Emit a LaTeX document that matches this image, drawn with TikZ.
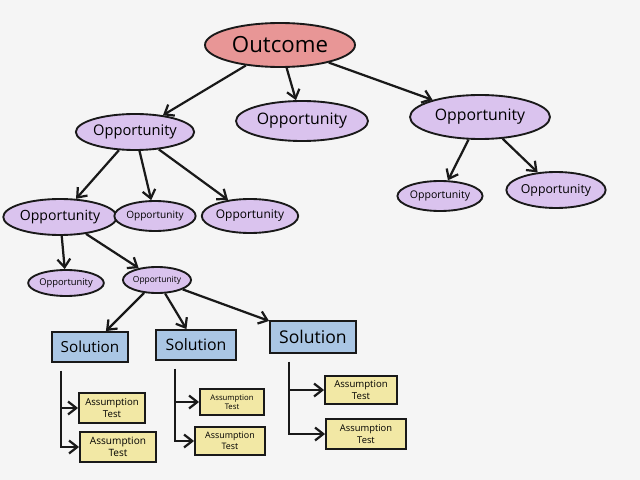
\documentclass[tikz,border=0pt]{standalone}
\usepackage{fontspec}
\setmainfont{Open Sans}
\usetikzlibrary{arrows.meta,shapes.geometric}

\definecolor{bgpaper}{RGB}{245,245,245}
\definecolor{outpink}{RGB}{232,150,150}
\definecolor{opplilac}{RGB}{218,195,238}
\definecolor{solblue}{RGB}{170,198,228}
\definecolor{testyellow}{RGB}{242,232,165}

\tikzset{
  sketch/.style={draw=black!90, line width=1.6pt},
  outc/.style={ellipse, sketch, fill=outpink, inner sep=0pt},
  opp/.style n args={3}{ellipse, sketch, fill=opplilac, inner sep=0pt,
    minimum width=#1*0.03cm, minimum height=#2*0.03cm,
    font=\fontsize{#3}{#3}\selectfont},
  sol/.style n args={3}{rectangle, sketch, fill=solblue, inner sep=0pt,
    minimum width=#1*0.03cm, minimum height=#2*0.03cm,
    font=\fontsize{#3}{#3}\selectfont},
  atest/.style n args={4}{rectangle, sketch, fill=testyellow, inner sep=0pt,
    minimum width=#1*0.03cm, minimum height=#2*0.03cm, align=center,
    font=\fontsize{#3}{#4}\selectfont},
  link/.style={->, line width=1.9pt, black!90}
}

\begin{document}
\begin{tikzpicture}[x=0.03cm,y=-0.03cm,>={Straight Barb[length=7pt,width=11pt]}]
    \fill[bgpaper] (0,0) rectangle (640,480);
    \useasboundingbox (0,0) rectangle (640,480);

    % outcome and first level
    \node[outc, minimum width=150*0.03cm, minimum height=44*0.03cm,
          font=\fontsize{19}{19}\selectfont] (out) at (280,45) {Outcome};
    \node[opp={102}{36}{12.5}] (oA) at (135,132) {Opportunity};
    \node[opp={132}{40}{13.5}] (oB) at (302,121) {Opportunity};
    \node[opp={140}{44}{13.5}] (oC) at (480,117) {Opportunity};

    % second level
    \node[opp={80}{30}{9}]    (oC1) at (440,196) {Opportunity};
    \node[opp={92}{36}{10.5}] (oC2) at (556,190) {Opportunity};
    \node[opp={100}{36}{12}]  (oA1) at (60,217)  {Opportunity};
    \node[opp={76}{30}{8.6}]  (oA2) at (155,216) {Opportunity};
    \node[opp={88}{34}{10.2}] (oA3) at (250,216) {Opportunity};

    % third level
    \node[opp={68}{26}{8}] (oA11) at (66,283)  {Opportunity};
    \node[opp={62}{26}{7.2}] (oA12) at (157,280) {Opportunity};

    % solutions
    \node[sol={76}{30}{13}]   (s1) at (90,347)  {Solution};
    \node[sol={80}{30}{13.5}] (s2) at (196,345) {Solution};
    \node[sol={86}{32}{15}]   (s3) at (313,337) {Solution};

    % assumption tests
    \node[atest={66}{30}{8.2}{10}] (t11) at (112,408) {Assumption\\Test};
    \node[atest={76}{30}{8.6}{10.5}] (t12) at (118,447) {Assumption\\Test};
    \node[atest={64}{26}{6.6}{8}] (t21) at (232,402) {Assumption\\Test};
    \node[atest={70}{28}{7.6}{9.2}] (t22) at (230,441) {Assumption\\Test};
    \node[atest={72}{28}{8.2}{10}] (t31) at (361,390) {Assumption\\Test};
    \node[atest={80}{30}{8}{10}]   (t32) at (366,434) {Assumption\\Test};

    \draw[link] (out) to (oA);
    \draw[link] (out) to (oB);
    \draw[link] (out) to (oC);
    \draw[link] (oC) to (oC1);
    \draw[link] (oC) to (oC2);
    \draw[link] (oA) to (oA1);
    \draw[link] (oA) to (oA2);
    \draw[link] (oA) to (oA3);
    \draw[link] (oA1) to (oA11);
    \draw[link] (oA1) to (oA12);
    \draw[link] (oA12) to (s1);
    \draw[link] (oA12) to (s2);
    \draw[link] (oA12) to (s3);

    \draw[link] ([xshift=10*0.03cm,yshift=-8*0.03cm]s1.south west) |- (t11);
    \draw[link] ([xshift=10*0.03cm,yshift=-8*0.03cm]s1.south west) |- (t12);
    \draw[link] ([xshift=20*0.03cm,yshift=-8*0.03cm]s2.south west) |- (t21);
    \draw[link] ([xshift=20*0.03cm,yshift=-8*0.03cm]s2.south west) |- (t22);
    \draw[link] ([xshift=20*0.03cm,yshift=-8*0.03cm]s3.south west) |- (t31);
    \draw[link] ([xshift=20*0.03cm,yshift=-8*0.03cm]s3.south west) |- (t32);
\end{tikzpicture}
\end{document}
